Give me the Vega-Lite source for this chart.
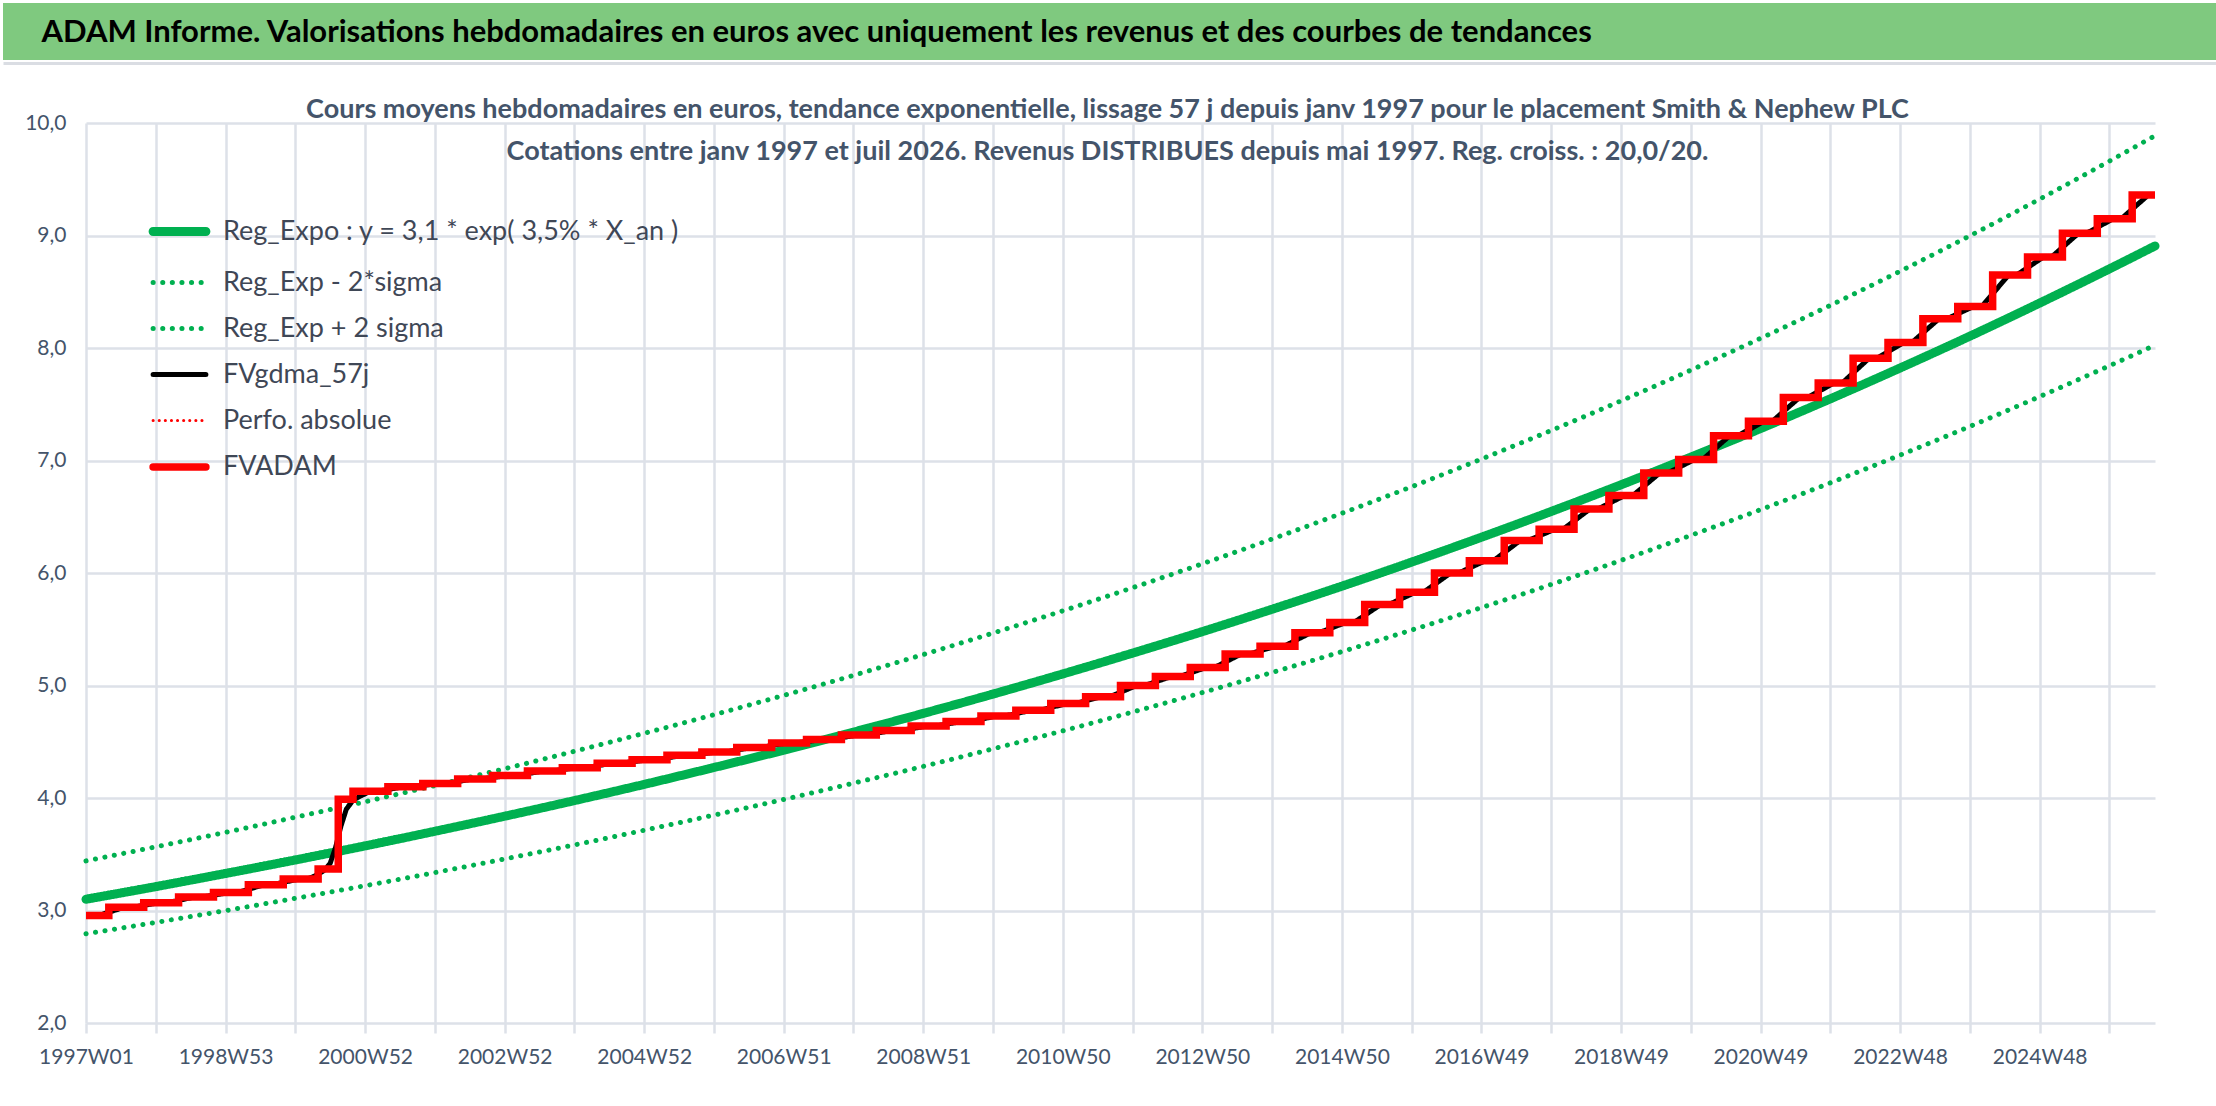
{
  "$schema": "https://vega.github.io/schema/vega-lite/v6.json",
  "background": "white",
  "padding": {"top": 3, "left": 0, "right": 0, "bottom": 0},
  "spacing": 63,
  "bounds": "flush",
  "config": {
    "font": "Lato",
    "view": {"stroke": null}
  },
  "datasets": {
    "trend": [
      {"s": "Reg_Expo : y = 3,1 * exp( 3,5% *  X_an )", "w": 0, "v": 3.100},
      {"s": "Reg_Expo : y = 3,1 * exp( 3,5% *  X_an )", "w": 52, "v": 3.212},
      {"s": "Reg_Expo : y = 3,1 * exp( 3,5% *  X_an )", "w": 104, "v": 3.329},
      {"s": "Reg_Expo : y = 3,1 * exp( 3,5% *  X_an )", "w": 156, "v": 3.449},
      {"s": "Reg_Expo : y = 3,1 * exp( 3,5% *  X_an )", "w": 208, "v": 3.574},
      {"s": "Reg_Expo : y = 3,1 * exp( 3,5% *  X_an )", "w": 260, "v": 3.704},
      {"s": "Reg_Expo : y = 3,1 * exp( 3,5% *  X_an )", "w": 312, "v": 3.838},
      {"s": "Reg_Expo : y = 3,1 * exp( 3,5% *  X_an )", "w": 364, "v": 3.977},
      {"s": "Reg_Expo : y = 3,1 * exp( 3,5% *  X_an )", "w": 416, "v": 4.121},
      {"s": "Reg_Expo : y = 3,1 * exp( 3,5% *  X_an )", "w": 468, "v": 4.271},
      {"s": "Reg_Expo : y = 3,1 * exp( 3,5% *  X_an )", "w": 520, "v": 4.425},
      {"s": "Reg_Expo : y = 3,1 * exp( 3,5% *  X_an )", "w": 572, "v": 4.586},
      {"s": "Reg_Expo : y = 3,1 * exp( 3,5% *  X_an )", "w": 624, "v": 4.752},
      {"s": "Reg_Expo : y = 3,1 * exp( 3,5% *  X_an )", "w": 676, "v": 4.924},
      {"s": "Reg_Expo : y = 3,1 * exp( 3,5% *  X_an )", "w": 728, "v": 5.103},
      {"s": "Reg_Expo : y = 3,1 * exp( 3,5% *  X_an )", "w": 780, "v": 5.288},
      {"s": "Reg_Expo : y = 3,1 * exp( 3,5% *  X_an )", "w": 832, "v": 5.479},
      {"s": "Reg_Expo : y = 3,1 * exp( 3,5% *  X_an )", "w": 884, "v": 5.678},
      {"s": "Reg_Expo : y = 3,1 * exp( 3,5% *  X_an )", "w": 936, "v": 5.883},
      {"s": "Reg_Expo : y = 3,1 * exp( 3,5% *  X_an )", "w": 988, "v": 6.097},
      {"s": "Reg_Expo : y = 3,1 * exp( 3,5% *  X_an )", "w": 1040, "v": 6.318},
      {"s": "Reg_Expo : y = 3,1 * exp( 3,5% *  X_an )", "w": 1092, "v": 6.547},
      {"s": "Reg_Expo : y = 3,1 * exp( 3,5% *  X_an )", "w": 1144, "v": 6.784},
      {"s": "Reg_Expo : y = 3,1 * exp( 3,5% *  X_an )", "w": 1196, "v": 7.030},
      {"s": "Reg_Expo : y = 3,1 * exp( 3,5% *  X_an )", "w": 1248, "v": 7.284},
      {"s": "Reg_Expo : y = 3,1 * exp( 3,5% *  X_an )", "w": 1300, "v": 7.548},
      {"s": "Reg_Expo : y = 3,1 * exp( 3,5% *  X_an )", "w": 1352, "v": 7.822},
      {"s": "Reg_Expo : y = 3,1 * exp( 3,5% *  X_an )", "w": 1404, "v": 8.105},
      {"s": "Reg_Expo : y = 3,1 * exp( 3,5% *  X_an )", "w": 1456, "v": 8.399},
      {"s": "Reg_Expo : y = 3,1 * exp( 3,5% *  X_an )", "w": 1508, "v": 8.703},
      {"s": "Reg_Expo : y = 3,1 * exp( 3,5% *  X_an )", "w": 1542, "v": 8.907},
      {"s": "Reg_Exp - 2*sigma", "w": 0, "v": 2.793},
      {"s": "Reg_Exp - 2*sigma", "w": 52, "v": 2.894},
      {"s": "Reg_Exp - 2*sigma", "w": 104, "v": 2.999},
      {"s": "Reg_Exp - 2*sigma", "w": 156, "v": 3.108},
      {"s": "Reg_Exp - 2*sigma", "w": 208, "v": 3.220},
      {"s": "Reg_Exp - 2*sigma", "w": 260, "v": 3.337},
      {"s": "Reg_Exp - 2*sigma", "w": 312, "v": 3.458},
      {"s": "Reg_Exp - 2*sigma", "w": 364, "v": 3.583},
      {"s": "Reg_Exp - 2*sigma", "w": 416, "v": 3.713},
      {"s": "Reg_Exp - 2*sigma", "w": 468, "v": 3.848},
      {"s": "Reg_Exp - 2*sigma", "w": 520, "v": 3.987},
      {"s": "Reg_Exp - 2*sigma", "w": 572, "v": 4.132},
      {"s": "Reg_Exp - 2*sigma", "w": 624, "v": 4.281},
      {"s": "Reg_Exp - 2*sigma", "w": 676, "v": 4.437},
      {"s": "Reg_Exp - 2*sigma", "w": 728, "v": 4.597},
      {"s": "Reg_Exp - 2*sigma", "w": 780, "v": 4.764},
      {"s": "Reg_Exp - 2*sigma", "w": 832, "v": 4.937},
      {"s": "Reg_Exp - 2*sigma", "w": 884, "v": 5.116},
      {"s": "Reg_Exp - 2*sigma", "w": 936, "v": 5.301},
      {"s": "Reg_Exp - 2*sigma", "w": 988, "v": 5.493},
      {"s": "Reg_Exp - 2*sigma", "w": 1040, "v": 5.692},
      {"s": "Reg_Exp - 2*sigma", "w": 1092, "v": 5.898},
      {"s": "Reg_Exp - 2*sigma", "w": 1144, "v": 6.112},
      {"s": "Reg_Exp - 2*sigma", "w": 1196, "v": 6.334},
      {"s": "Reg_Exp - 2*sigma", "w": 1248, "v": 6.563},
      {"s": "Reg_Exp - 2*sigma", "w": 1300, "v": 6.801},
      {"s": "Reg_Exp - 2*sigma", "w": 1352, "v": 7.048},
      {"s": "Reg_Exp - 2*sigma", "w": 1404, "v": 7.303},
      {"s": "Reg_Exp - 2*sigma", "w": 1456, "v": 7.568},
      {"s": "Reg_Exp - 2*sigma", "w": 1508, "v": 7.842},
      {"s": "Reg_Exp - 2*sigma", "w": 1542, "v": 8.025},
      {"s": "Reg_Exp + 2 sigma", "w": 0, "v": 3.441},
      {"s": "Reg_Exp + 2 sigma", "w": 52, "v": 3.566},
      {"s": "Reg_Exp + 2 sigma", "w": 104, "v": 3.695},
      {"s": "Reg_Exp + 2 sigma", "w": 156, "v": 3.829},
      {"s": "Reg_Exp + 2 sigma", "w": 208, "v": 3.967},
      {"s": "Reg_Exp + 2 sigma", "w": 260, "v": 4.111},
      {"s": "Reg_Exp + 2 sigma", "w": 312, "v": 4.260},
      {"s": "Reg_Exp + 2 sigma", "w": 364, "v": 4.415},
      {"s": "Reg_Exp + 2 sigma", "w": 416, "v": 4.575},
      {"s": "Reg_Exp + 2 sigma", "w": 468, "v": 4.740},
      {"s": "Reg_Exp + 2 sigma", "w": 520, "v": 4.912},
      {"s": "Reg_Exp + 2 sigma", "w": 572, "v": 5.090},
      {"s": "Reg_Exp + 2 sigma", "w": 624, "v": 5.275},
      {"s": "Reg_Exp + 2 sigma", "w": 676, "v": 5.466},
      {"s": "Reg_Exp + 2 sigma", "w": 728, "v": 5.664},
      {"s": "Reg_Exp + 2 sigma", "w": 780, "v": 5.869},
      {"s": "Reg_Exp + 2 sigma", "w": 832, "v": 6.082},
      {"s": "Reg_Exp + 2 sigma", "w": 884, "v": 6.302},
      {"s": "Reg_Exp + 2 sigma", "w": 936, "v": 6.531},
      {"s": "Reg_Exp + 2 sigma", "w": 988, "v": 6.767},
      {"s": "Reg_Exp + 2 sigma", "w": 1040, "v": 7.013},
      {"s": "Reg_Exp + 2 sigma", "w": 1092, "v": 7.267},
      {"s": "Reg_Exp + 2 sigma", "w": 1144, "v": 7.530},
      {"s": "Reg_Exp + 2 sigma", "w": 1196, "v": 7.803},
      {"s": "Reg_Exp + 2 sigma", "w": 1248, "v": 8.086},
      {"s": "Reg_Exp + 2 sigma", "w": 1300, "v": 8.379},
      {"s": "Reg_Exp + 2 sigma", "w": 1352, "v": 8.682},
      {"s": "Reg_Exp + 2 sigma", "w": 1404, "v": 8.997},
      {"s": "Reg_Exp + 2 sigma", "w": 1456, "v": 9.323},
      {"s": "Reg_Exp + 2 sigma", "w": 1508, "v": 9.661},
      {"s": "Reg_Exp + 2 sigma", "w": 1542, "v": 9.887}
    ],
    "gdma": [
      {"s": "FVgdma_57j", "w": 0, "v": 2.955},
      {"s": "FVgdma_57j", "w": 9, "v": 2.955}, {"s": "FVgdma_57j", "w": 29, "v": 3.03},
      {"s": "FVgdma_57j", "w": 35, "v": 3.03}, {"s": "FVgdma_57j", "w": 55, "v": 3.07},
      {"s": "FVgdma_57j", "w": 61, "v": 3.07}, {"s": "FVgdma_57j", "w": 81, "v": 3.12},
      {"s": "FVgdma_57j", "w": 87, "v": 3.12}, {"s": "FVgdma_57j", "w": 107, "v": 3.16},
      {"s": "FVgdma_57j", "w": 113, "v": 3.16}, {"s": "FVgdma_57j", "w": 133, "v": 3.23},
      {"s": "FVgdma_57j", "w": 139, "v": 3.23}, {"s": "FVgdma_57j", "w": 159, "v": 3.28},
      {"s": "FVgdma_57j", "w": 165, "v": 3.28}, {"s": "FVgdma_57j", "w": 171, "v": 3.31},
      {"s": "FVgdma_57j", "w": 178, "v": 3.36}, {"s": "FVgdma_57j", "w": 182, "v": 3.42},
      {"s": "FVgdma_57j", "w": 186, "v": 3.56}, {"s": "FVgdma_57j", "w": 190, "v": 3.75},
      {"s": "FVgdma_57j", "w": 194, "v": 3.90}, {"s": "FVgdma_57j", "w": 199, "v": 3.98},
      {"s": "FVgdma_57j", "w": 205, "v": 4.02}, {"s": "FVgdma_57j", "w": 212, "v": 4.06},
      {"s": "FVgdma_57j", "w": 217, "v": 4.06}, {"s": "FVgdma_57j", "w": 237, "v": 4.10},
      {"s": "FVgdma_57j", "w": 243, "v": 4.10}, {"s": "FVgdma_57j", "w": 263, "v": 4.13},
      {"s": "FVgdma_57j", "w": 269, "v": 4.13}, {"s": "FVgdma_57j", "w": 289, "v": 4.17},
      {"s": "FVgdma_57j", "w": 295, "v": 4.17}, {"s": "FVgdma_57j", "w": 315, "v": 4.20},
      {"s": "FVgdma_57j", "w": 321, "v": 4.20}, {"s": "FVgdma_57j", "w": 341, "v": 4.24},
      {"s": "FVgdma_57j", "w": 347, "v": 4.24}, {"s": "FVgdma_57j", "w": 367, "v": 4.27},
      {"s": "FVgdma_57j", "w": 373, "v": 4.27}, {"s": "FVgdma_57j", "w": 393, "v": 4.31},
      {"s": "FVgdma_57j", "w": 399, "v": 4.31}, {"s": "FVgdma_57j", "w": 419, "v": 4.34},
      {"s": "FVgdma_57j", "w": 425, "v": 4.34}, {"s": "FVgdma_57j", "w": 445, "v": 4.38},
      {"s": "FVgdma_57j", "w": 451, "v": 4.38}, {"s": "FVgdma_57j", "w": 471, "v": 4.41},
      {"s": "FVgdma_57j", "w": 477, "v": 4.41}, {"s": "FVgdma_57j", "w": 497, "v": 4.45},
      {"s": "FVgdma_57j", "w": 503, "v": 4.45}, {"s": "FVgdma_57j", "w": 523, "v": 4.49},
      {"s": "FVgdma_57j", "w": 529, "v": 4.49}, {"s": "FVgdma_57j", "w": 549, "v": 4.52},
      {"s": "FVgdma_57j", "w": 555, "v": 4.52}, {"s": "FVgdma_57j", "w": 575, "v": 4.56},
      {"s": "FVgdma_57j", "w": 581, "v": 4.56}, {"s": "FVgdma_57j", "w": 601, "v": 4.60},
      {"s": "FVgdma_57j", "w": 607, "v": 4.60}, {"s": "FVgdma_57j", "w": 627, "v": 4.64},
      {"s": "FVgdma_57j", "w": 633, "v": 4.64}, {"s": "FVgdma_57j", "w": 653, "v": 4.68},
      {"s": "FVgdma_57j", "w": 659, "v": 4.68}, {"s": "FVgdma_57j", "w": 679, "v": 4.73},
      {"s": "FVgdma_57j", "w": 685, "v": 4.73}, {"s": "FVgdma_57j", "w": 705, "v": 4.78},
      {"s": "FVgdma_57j", "w": 711, "v": 4.78}, {"s": "FVgdma_57j", "w": 731, "v": 4.84},
      {"s": "FVgdma_57j", "w": 737, "v": 4.84}, {"s": "FVgdma_57j", "w": 757, "v": 4.90},
      {"s": "FVgdma_57j", "w": 763, "v": 4.90}, {"s": "FVgdma_57j", "w": 783, "v": 5.00},
      {"s": "FVgdma_57j", "w": 789, "v": 5.00}, {"s": "FVgdma_57j", "w": 809, "v": 5.08},
      {"s": "FVgdma_57j", "w": 815, "v": 5.08}, {"s": "FVgdma_57j", "w": 835, "v": 5.16},
      {"s": "FVgdma_57j", "w": 841, "v": 5.16}, {"s": "FVgdma_57j", "w": 861, "v": 5.28},
      {"s": "FVgdma_57j", "w": 867, "v": 5.28}, {"s": "FVgdma_57j", "w": 887, "v": 5.35},
      {"s": "FVgdma_57j", "w": 893, "v": 5.35}, {"s": "FVgdma_57j", "w": 913, "v": 5.47},
      {"s": "FVgdma_57j", "w": 919, "v": 5.47}, {"s": "FVgdma_57j", "w": 939, "v": 5.56},
      {"s": "FVgdma_57j", "w": 945, "v": 5.56}, {"s": "FVgdma_57j", "w": 965, "v": 5.72},
      {"s": "FVgdma_57j", "w": 971, "v": 5.72}, {"s": "FVgdma_57j", "w": 991, "v": 5.83},
      {"s": "FVgdma_57j", "w": 997, "v": 5.83}, {"s": "FVgdma_57j", "w": 1017, "v": 6.00},
      {"s": "FVgdma_57j", "w": 1023, "v": 6.00}, {"s": "FVgdma_57j", "w": 1043, "v": 6.11},
      {"s": "FVgdma_57j", "w": 1049, "v": 6.11}, {"s": "FVgdma_57j", "w": 1069, "v": 6.29},
      {"s": "FVgdma_57j", "w": 1075, "v": 6.29}, {"s": "FVgdma_57j", "w": 1095, "v": 6.39},
      {"s": "FVgdma_57j", "w": 1101, "v": 6.39}, {"s": "FVgdma_57j", "w": 1121, "v": 6.57},
      {"s": "FVgdma_57j", "w": 1127, "v": 6.57}, {"s": "FVgdma_57j", "w": 1147, "v": 6.69},
      {"s": "FVgdma_57j", "w": 1153, "v": 6.69}, {"s": "FVgdma_57j", "w": 1173, "v": 6.89},
      {"s": "FVgdma_57j", "w": 1179, "v": 6.89}, {"s": "FVgdma_57j", "w": 1199, "v": 7.01},
      {"s": "FVgdma_57j", "w": 1205, "v": 7.01}, {"s": "FVgdma_57j", "w": 1225, "v": 7.22},
      {"s": "FVgdma_57j", "w": 1231, "v": 7.22}, {"s": "FVgdma_57j", "w": 1251, "v": 7.35},
      {"s": "FVgdma_57j", "w": 1257, "v": 7.35}, {"s": "FVgdma_57j", "w": 1277, "v": 7.56},
      {"s": "FVgdma_57j", "w": 1283, "v": 7.56}, {"s": "FVgdma_57j", "w": 1303, "v": 7.69},
      {"s": "FVgdma_57j", "w": 1309, "v": 7.69}, {"s": "FVgdma_57j", "w": 1329, "v": 7.91},
      {"s": "FVgdma_57j", "w": 1335, "v": 7.91}, {"s": "FVgdma_57j", "w": 1355, "v": 8.05},
      {"s": "FVgdma_57j", "w": 1361, "v": 8.05}, {"s": "FVgdma_57j", "w": 1381, "v": 8.26},
      {"s": "FVgdma_57j", "w": 1387, "v": 8.26}, {"s": "FVgdma_57j", "w": 1407, "v": 8.37},
      {"s": "FVgdma_57j", "w": 1413, "v": 8.37}, {"s": "FVgdma_57j", "w": 1433, "v": 8.65},
      {"s": "FVgdma_57j", "w": 1439, "v": 8.65}, {"s": "FVgdma_57j", "w": 1459, "v": 8.81},
      {"s": "FVgdma_57j", "w": 1465, "v": 8.81}, {"s": "FVgdma_57j", "w": 1485, "v": 9.02},
      {"s": "FVgdma_57j", "w": 1491, "v": 9.02}, {"s": "FVgdma_57j", "w": 1511, "v": 9.15},
      {"s": "FVgdma_57j", "w": 1517, "v": 9.15}, {"s": "FVgdma_57j", "w": 1537, "v": 9.36},
      {"s": "FVgdma_57j", "w": 1542, "v": 9.36}
    ],
    "adam": [
      {"s": "FVADAM", "w": 0, "v": 2.955}, {"s": "FVADAM", "w": 17, "v": 3.03},
      {"s": "FVADAM", "w": 43, "v": 3.07}, {"s": "FVADAM", "w": 69, "v": 3.12},
      {"s": "FVADAM", "w": 95, "v": 3.16}, {"s": "FVADAM", "w": 121, "v": 3.23},
      {"s": "FVADAM", "w": 147, "v": 3.28}, {"s": "FVADAM", "w": 173, "v": 3.37},
      {"s": "FVADAM", "w": 188, "v": 3.99}, {"s": "FVADAM", "w": 199, "v": 4.06},
      {"s": "FVADAM", "w": 225, "v": 4.10}, {"s": "FVADAM", "w": 251, "v": 4.13},
      {"s": "FVADAM", "w": 277, "v": 4.17}, {"s": "FVADAM", "w": 303, "v": 4.20},
      {"s": "FVADAM", "w": 329, "v": 4.24}, {"s": "FVADAM", "w": 355, "v": 4.27},
      {"s": "FVADAM", "w": 381, "v": 4.31}, {"s": "FVADAM", "w": 407, "v": 4.34},
      {"s": "FVADAM", "w": 433, "v": 4.38}, {"s": "FVADAM", "w": 459, "v": 4.41},
      {"s": "FVADAM", "w": 485, "v": 4.45}, {"s": "FVADAM", "w": 511, "v": 4.49},
      {"s": "FVADAM", "w": 537, "v": 4.52}, {"s": "FVADAM", "w": 563, "v": 4.56},
      {"s": "FVADAM", "w": 589, "v": 4.60}, {"s": "FVADAM", "w": 615, "v": 4.64},
      {"s": "FVADAM", "w": 641, "v": 4.68}, {"s": "FVADAM", "w": 667, "v": 4.73},
      {"s": "FVADAM", "w": 693, "v": 4.78}, {"s": "FVADAM", "w": 719, "v": 4.84},
      {"s": "FVADAM", "w": 745, "v": 4.90}, {"s": "FVADAM", "w": 771, "v": 5.00},
      {"s": "FVADAM", "w": 797, "v": 5.08}, {"s": "FVADAM", "w": 823, "v": 5.16},
      {"s": "FVADAM", "w": 849, "v": 5.28}, {"s": "FVADAM", "w": 875, "v": 5.35},
      {"s": "FVADAM", "w": 901, "v": 5.47}, {"s": "FVADAM", "w": 927, "v": 5.56},
      {"s": "FVADAM", "w": 953, "v": 5.72}, {"s": "FVADAM", "w": 979, "v": 5.83},
      {"s": "FVADAM", "w": 1005, "v": 6.00}, {"s": "FVADAM", "w": 1031, "v": 6.11},
      {"s": "FVADAM", "w": 1057, "v": 6.29}, {"s": "FVADAM", "w": 1083, "v": 6.39},
      {"s": "FVADAM", "w": 1109, "v": 6.57}, {"s": "FVADAM", "w": 1135, "v": 6.69},
      {"s": "FVADAM", "w": 1161, "v": 6.89}, {"s": "FVADAM", "w": 1187, "v": 7.01},
      {"s": "FVADAM", "w": 1213, "v": 7.22}, {"s": "FVADAM", "w": 1239, "v": 7.35},
      {"s": "FVADAM", "w": 1265, "v": 7.56}, {"s": "FVADAM", "w": 1291, "v": 7.69},
      {"s": "FVADAM", "w": 1317, "v": 7.91}, {"s": "FVADAM", "w": 1343, "v": 8.05},
      {"s": "FVADAM", "w": 1369, "v": 8.26}, {"s": "FVADAM", "w": 1395, "v": 8.37},
      {"s": "FVADAM", "w": 1421, "v": 8.65}, {"s": "FVADAM", "w": 1447, "v": 8.81},
      {"s": "FVADAM", "w": 1473, "v": 9.02}, {"s": "FVADAM", "w": 1499, "v": 9.15},
      {"s": "FVADAM", "w": 1525, "v": 9.36}, {"s": "FVADAM", "w": 1542, "v": 9.36}
    ]
  },
  "vconcat": [
    {
      "width": 2216,
      "height": 57,
      "view": {"fill": "#7FC97F", "stroke": null},
      "data": {"values": [{}]},
      "mark": {"type": "point", "opacity": 0},
      "encoding": {
        "x": {
          "datum": 0,
          "type": "quantitative",
          "scale": {"domain": [0, 1]},
          "axis": {
            "orient": "bottom", "offset": 3, "domain": true, "domainColor": "#DADDE3", "domainWidth": 3,
            "ticks": false, "labels": false, "grid": false,
            "title": "ADAM Informe. Valorisations hebdomadaires en euros avec uniquement les revenus et des courbes de tendances",
            "titleX": 38, "titleY": -31, "titleAlign": "left", "titleAnchor": "start", "titleBaseline": "middle",
            "titleFontSize": 31, "titleFontWeight": "bold", "titleColor": "#000000"
          }
        }
      }
    },
    {
      "spacing": 0,
      "bounds": "flush",
      "hconcat": [
        {
          "width": 83,
          "height": 900,
          "data": {"values": [{}]},
          "mark": {"type": "point", "opacity": 0},
          "encoding": {}
        },
        {
          "width": 2069,
          "height": 900,
          "encoding": {
            "x": {
              "field": "w",
              "type": "quantitative",
              "title": [
                "Cours moyens hebdomadaires en euros, tendance exponentielle, lissage 57 j depuis janv 1997 pour le placement Smith & Nephew PLC",
                "Cotations entre janv 1997 et juil 2026. Revenus DISTRIBUES depuis mai 1997. Reg. croiss. : 20,0/20."
              ],
              "scale": {"domain": [0, 1542], "nice": false, "zero": false},
              "axis": {
                "values": [0, 52, 104, 156, 208, 260, 312, 364, 416, 468, 520, 572, 624, 676, 728, 780, 832, 884, 936, 988, 1040, 1092, 1144, 1196, 1248, 1300, 1352, 1404, 1456, 1508],
                "labelExpr": "datum.value % 104 == 0 ? ['1997W01','1998W53','2000W52','2002W52','2004W52','2006W51','2008W51','2010W50','2012W50','2014W50','2016W49','2018W49','2020W49','2022W48','2024W48'][datum.value / 104] : ''",
                "grid": true,
                "gridColor": "#DDE1E8",
                "gridWidth": 2.5,
                "ticks": true,
                "tickSize": 10,
                "tickColor": "#DDE1E8",
                "tickWidth": 2.5,
                "domain": false,
                "labelFontSize": 21,
                "labelColor": "#44546A",
                "labelPadding": 13,
                "labelFlush": false,
                "labelOverlap": false,
                "titleX": 1021,
                "titleY": -927,
                "titleAlign": "center",
                "titleBaseline": "top",
                "titleFontSize": 27,
                "titleLineHeight": 42,
                "titleFontWeight": "bold",
                "titleColor": "#44546A"
              }
            },
            "y": {
              "field": "v",
              "type": "quantitative",
              "title": null,
              "scale": {"domain": [2, 10], "nice": false, "zero": false},
              "axis": {
                "values": [2, 3, 4, 5, 6, 7, 8, 9, 10],
                "labelExpr": "replace(format(datum.value, '.1f'), '.', ',')",
                "grid": true,
                "gridColor": "#DDE1E8",
                "gridWidth": 2.5,
                "ticks": false,
                "domain": false,
                "labelFontSize": 21,
                "labelColor": "#44546A",
                "labelPadding": 20
              }
            },
            "color": {
              "field": "s",
              "type": "nominal",
              "scale": {
                "domain": ["Reg_Expo : y = 3,1 * exp( 3,5% *  X_an )", "Reg_Exp - 2*sigma", "Reg_Exp + 2 sigma", "FVgdma_57j", "Perfo. absolue", "FVADAM"],
                "range": ["#00B050", "#00B050", "#00B050", "#000000", "#FF0000", "#FF0000"]
              },
              "legend": {
                "orient": "none", "legendX": 161, "legendY": 213, "title": null, "padding": 0,
                "symbolType": "M-2.4,0H2.4", "symbolSize": 484, "labelFontSize": 27, "labelColor": "#3F4756",
                "labelLimit": 1000, "labelOffset": 28, "rowPadding": 18,
                "encode": {"symbols": {"update": {"strokeCap": {"value": "round"}, "fill": {"value": "transparent"}}}}
              }
            },
            "strokeDash": {
              "field": "s",
              "type": "nominal",
              "scale": {
                "domain": ["Reg_Expo : y = 3,1 * exp( 3,5% *  X_an )", "Reg_Exp - 2*sigma", "Reg_Exp + 2 sigma", "FVgdma_57j", "Perfo. absolue", "FVADAM"],
                "range": [[1, 0], [0.1, 9.5], [0.1, 9.5], [1, 0], [0.1, 6], [1, 0]]
              },
              "legend": {
                "orient": "none", "legendX": 161, "legendY": 213, "title": null, "padding": 0,
                "symbolType": "M-2.4,0H2.4", "symbolSize": 484, "labelFontSize": 27, "labelColor": "#3F4756",
                "labelLimit": 1000, "labelOffset": 28, "rowPadding": 18,
                "encode": {"symbols": {"update": {"strokeCap": {"value": "round"}, "fill": {"value": "transparent"}}}}
              }
            },
            "strokeWidth": {
              "field": "s",
              "type": "nominal",
              "scale": {
                "type": "ordinal",
                "domain": ["Reg_Expo : y = 3,1 * exp( 3,5% *  X_an )", "Reg_Exp - 2*sigma", "Reg_Exp + 2 sigma", "FVgdma_57j", "Perfo. absolue", "FVADAM"],
                "range": [9, 5, 5, 5, 3, 7.5]
              },
              "legend": {
                "orient": "none", "legendX": 161, "legendY": 213, "title": null, "padding": 0,
                "symbolType": "M-2.4,0H2.4", "symbolSize": 484, "labelFontSize": 27, "labelColor": "#3F4756",
                "labelLimit": 1000, "labelOffset": 28, "rowPadding": 18,
                "encode": {"symbols": {"update": {"strokeCap": {"value": "round"}, "fill": {"value": "transparent"}}}}
              }
            }
          },
          "layer": [
            {"data": {"name": "trend"}, "mark": {"type": "line", "interpolate": "monotone", "strokeCap": "round"}},
            {"data": {"name": "gdma"}, "mark": {"type": "line"}},
            {"data": {"name": "adam"}, "mark": {"type": "line", "interpolate": "step-after"}}
          ]
        }
      ]
    }
  ]
}
